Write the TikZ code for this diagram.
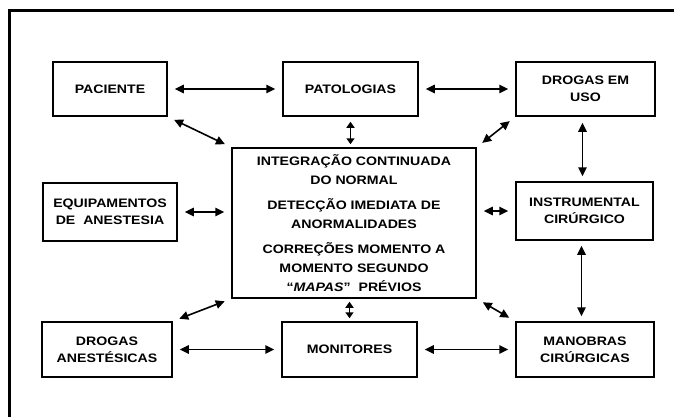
\documentclass[tikz,border=0pt]{standalone}
\usepackage{fontspec}
\setmainfont{Liberation Sans}[FakeStretch=1.15]
\usetikzlibrary{arrows.meta}
\begin{document}
\begin{tikzpicture}[x=1pt,y=-1pt,
  box/.style={draw, line width=1.5pt, align=center, inner sep=0pt,
    font=\bfseries\fontsize{12.3}{17}\selectfont},
  link/.style={line width=1.6pt,
    {Triangle[length=9pt,width=8.5pt]}-{Triangle[length=9pt,width=8.5pt]},
    shorten <=7pt, shorten >=7pt},
  shortlink/.style={line width=1.6pt,
    {Triangle[length=6pt,width=8pt]}-{Triangle[length=6pt,width=8pt]},
    shorten <=3pt, shorten >=3pt}]
\useasboundingbox (0,0) rectangle (674,417);
% outer frame
\draw[line width=2.5pt] (9.5,417) -- (9.5,10.5) -- (674,10.5);
% boxes
\node[box, minimum width=114pt, minimum height=54pt] (pac) at (110,89) {PACIENTE};
\node[box, minimum width=135pt, minimum height=54pt] (pat) at (350.5,89) {PATOLOGIAS};
\node[box, minimum width=139pt, minimum height=54pt] (dro) at (585.5,89) {DROGAS EM\\USO};
\node[box, minimum width=244pt, minimum height=150pt, font=\bfseries\fontsize{12.3}{19}\selectfont] (ctr) at (354,223)
  {INTEGRAÇÃO CONTINUADA\\DO NORMAL\\[6pt]DETECÇÃO IMEDIATA DE\\ANORMALIDADES\\[6pt]CORREÇÕES MOMENTO A\\MOMENTO SEGUNDO\\“\textit{MAPAS}”\ \ PRÉVIOS};
\node[box, minimum width=134pt, minimum height=58pt] (equ) at (110,212) {EQUIPAMENTOS\\DE\ \ ANESTESIA};
\node[box, minimum width=137pt, minimum height=58pt] (ins) at (584.5,211) {INSTRUMENTAL\\CIRÚRGICO};
\node[box, minimum width=130pt, minimum height=55pt] (dan) at (107,349.5) {DROGAS\\ANESTÉSICAS};
\node[box, minimum width=135pt, minimum height=55pt] (mon) at (349.5,349.5) {MONITORES};
\node[box, minimum width=138pt, minimum height=55pt] (man) at (585,349.5) {MANOBRAS\\CIRÚRGICAS};
% connectors
\draw[link] (pac) -- (pat);
\draw[link] (pat) -- (dro);
\draw[link] (pac.south east) -- (ctr.north west);
\draw[shortlink, shorten <=5pt] (pat.south) -- (pat.south |- ctr.north);
\draw[link] (dro.south west) -- (ctr.north east);
\draw[link, shorten <=6pt, shorten >=5pt] ([xshift=-3pt]dro.south) -- ([xshift=-3pt]dro.south |- ins.north);
\draw[link] (equ) -- (ctr.west |- equ);
\draw[link] (ctr.east |- ins) -- (ins);
\draw[link, shorten <=5pt, shorten >=5pt] ([xshift=-3pt]ins.south) -- ([xshift=-3pt]ins.south |- man.north);
\draw[link] (dan.north east) -- (ctr.south west);
\draw[shortlink] (mon.north) -- (mon.north |- ctr.south);
\draw[link] (ctr.south east) -- (man.north west);
\draw[link] (dan) -- (mon);
\draw[link] (mon) -- (man);
\end{tikzpicture}
\end{document}
